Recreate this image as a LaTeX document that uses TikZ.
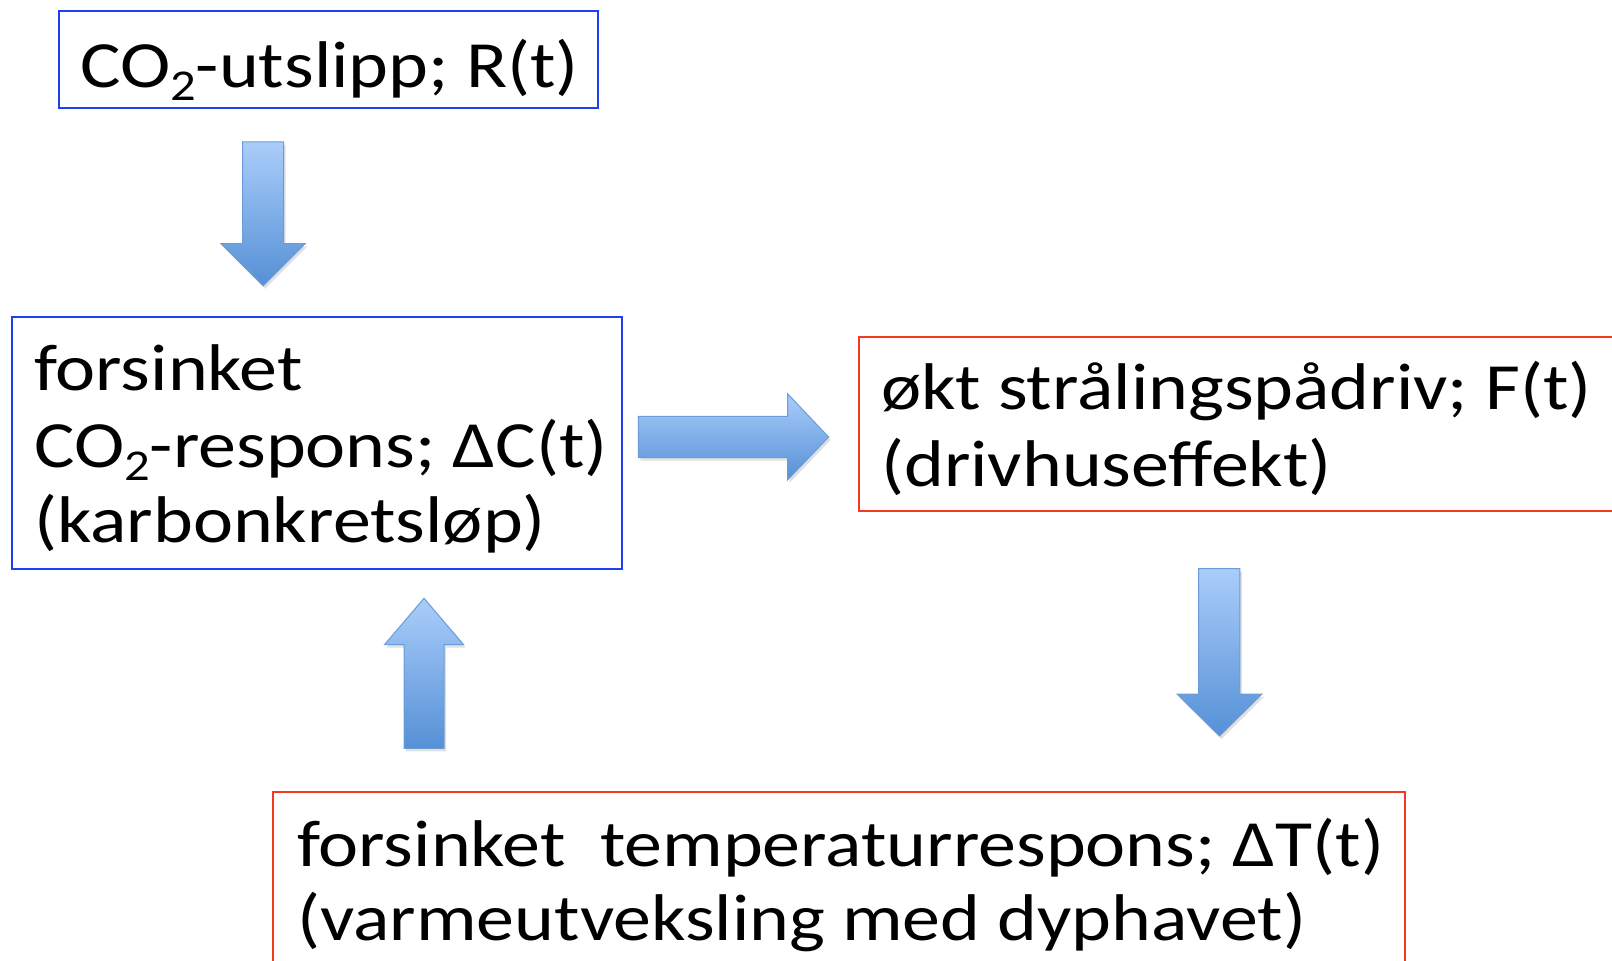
\documentclass[tikz,border=0pt]{standalone}
\usepackage{fontspec}
\setmainfont[FakeStretch=1.15]{Carlito}
\usetikzlibrary{positioning}
\definecolor{bbox}{HTML}{2040F0}
\definecolor{rbox}{HTML}{F03A22}
\definecolor{arlight}{HTML}{AACDFA}
\definecolor{ardark}{HTML}{5590D6}
\definecolor{aredge}{HTML}{6A9CDA}
\newcommand{\subtwo}{\raisebox{-0.2em}{\fontsize{44}{44}\selectfont 2}}
\tikzset{
  box/.style={draw, line width=2pt, inner sep=0pt},
  bluebox/.style={box, draw=bbox},
  redbox/.style={box, draw=rbox},
  txt/.style={anchor=base west, inner sep=0pt, font=\fontsize{66}{77}\selectfont},
  blockarrow/.style={top color=arlight, bottom color=ardark, draw=aredge, line width=1pt, line join=miter},
  arrowshadow/.style={fill=black, opacity=0.12, shift={(2,3)}}
}
\begin{document}
\begin{tikzpicture}[x=1pt,y=-1pt]
\path[use as bounding box] (0,0) rectangle (1612,961);
% boxes
\draw[bluebox] (58.6,11.3) rectangle (598.4,108);
\node[txt] (t1) at (80,87) {CO\subtwo-utslipp; R(t)};
\draw[bluebox] (12.3,316.6) rectangle (622,568.5);
\node[txt] (t2a) at (34,390.6) {forsinket};
\node[txt] (t2b) at (34,467.7) {CO\subtwo-respons; ΔC(t)};
\node[txt] (t2c) at (34,542.8) {(karbonkretsløp)};
\draw[redbox] (859.4,337.2) rectangle (1630,511);
\node[txt] (t3a) at (881,409) {økt strålingspådriv; F(t)};
\node[txt] (t3b) at (881,486) {(drivhuseffekt)};
\draw[redbox] (273.4,791.6) rectangle (1405,980);
\node[txt] (t4a) at (297,866.6) {forsinket\ \ temperaturrespons; ΔT(t)};
\node[txt] (t4b) at (297,940.6) {(varmeutveksling med dyphavet)};
% arrows (shadows)
\fill[arrowshadow] (242.6,141.9) -- (283.7,141.9) -- (283.7,243.6) -- (305.3,243.6) -- (263.2,285.8) -- (221,243.6) -- (242.6,243.6) -- cycle;
\fill[arrowshadow] (638.4,416.3) -- (787.5,416.3) -- (787.5,393.7) -- (828.6,437) -- (787.5,480) -- (787.5,457.5) -- (638.4,457.5) -- cycle;
\fill[arrowshadow] (1198.6,568.5) -- (1239.8,568.5) -- (1239.8,694) -- (1262,694) -- (1219.5,736) -- (1177,694) -- (1198.6,694) -- cycle;
\fill[arrowshadow] (404,748.4) -- (444,748.4) -- (444,644.6) -- (463.6,644.6) -- (424,598.3) -- (384.5,644.6) -- (404,644.6) -- cycle;
% arrows
\shade[blockarrow] (242.6,141.9) -- (283.7,141.9) -- (283.7,243.6) -- (305.3,243.6) -- (263.2,285.8) -- (221,243.6) -- (242.6,243.6) -- cycle;
\shade[blockarrow] (638.4,416.3) -- (787.5,416.3) -- (787.5,393.7) -- (828.6,437) -- (787.5,480) -- (787.5,457.5) -- (638.4,457.5) -- cycle;
\shade[blockarrow] (1198.6,568.5) -- (1239.8,568.5) -- (1239.8,694) -- (1262,694) -- (1219.5,736) -- (1177,694) -- (1198.6,694) -- cycle;
\shade[blockarrow] (404,748.4) -- (444,748.4) -- (444,644.6) -- (463.6,644.6) -- (424,598.3) -- (384.5,644.6) -- (404,644.6) -- cycle;
\end{tikzpicture}
\end{document}
